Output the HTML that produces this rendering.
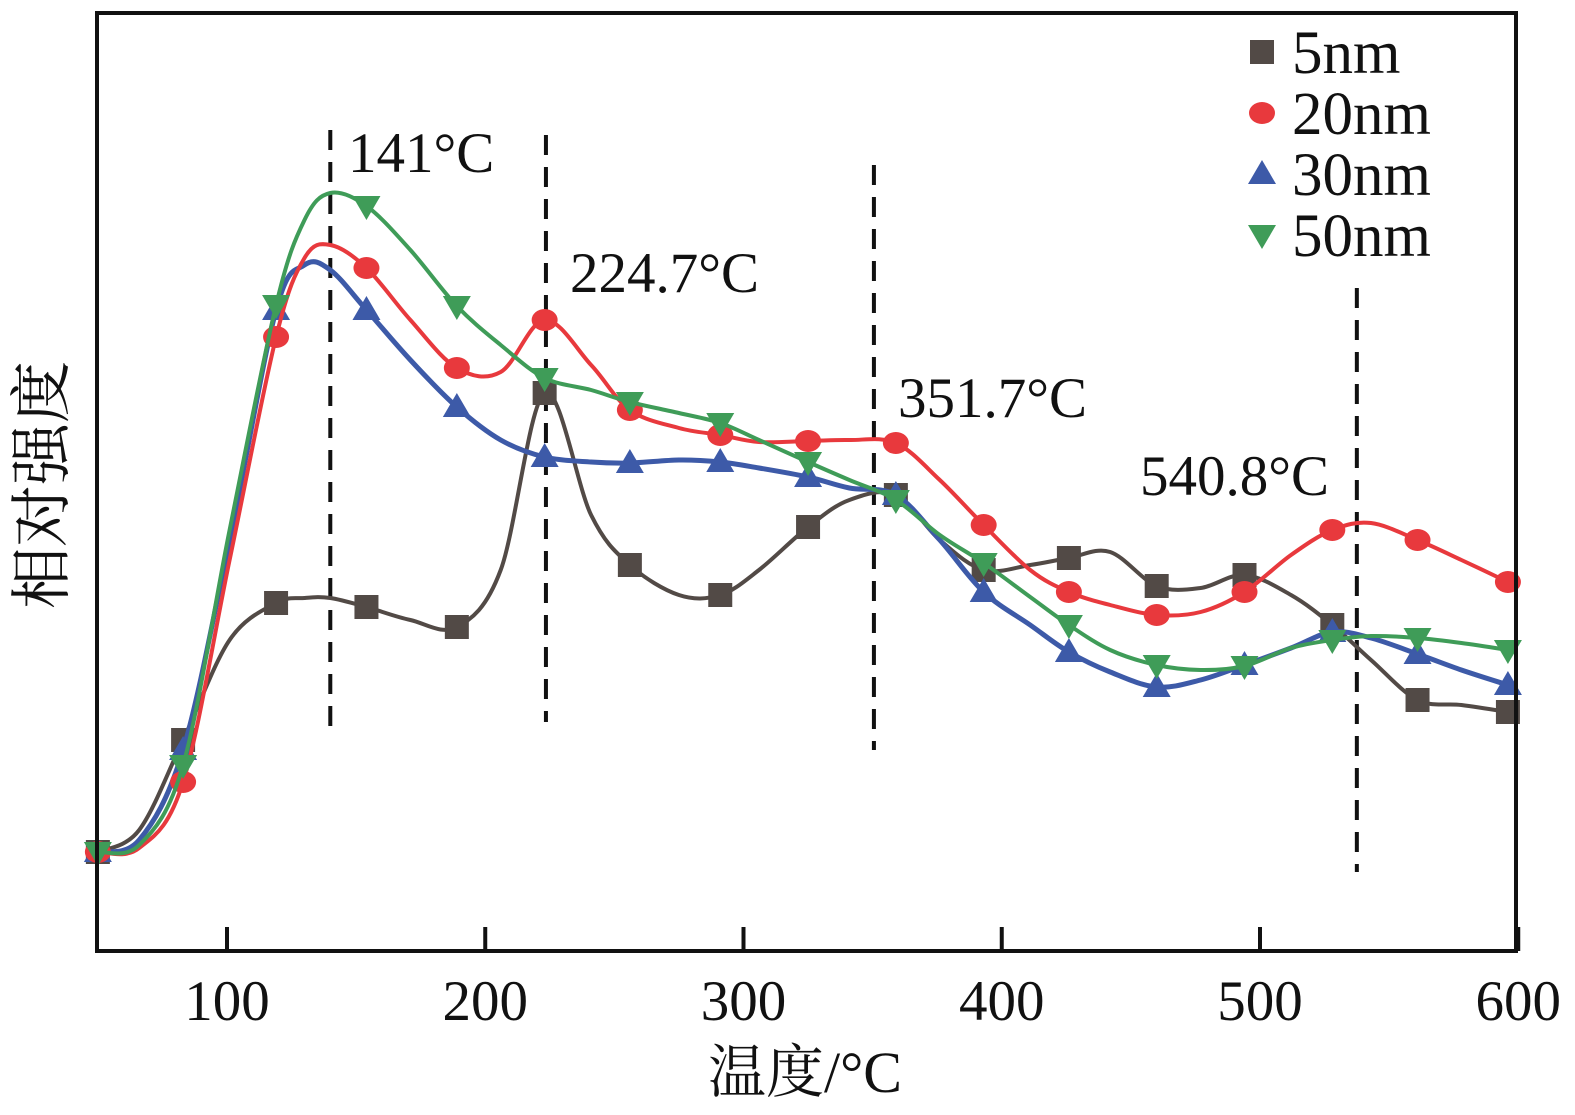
<!DOCTYPE html>
<html><head><meta charset="utf-8">
<style>
html,body{margin:0;padding:0;background:#fff;}
svg{display:block;}
text{font-family:"Liberation Serif","Noto Serif CJK SC",serif;fill:#111;}
</style></head>
<body>
<svg id="chart" width="1575" height="1115" viewBox="0 0 1575 1115" xmlns="http://www.w3.org/2000/svg">
<g id="marks"></g>
<g id="axes"></g>
</svg>
<script>
const temps = [50,66,83,101,119,130,140,154,171,189,206,223,241,256,275,291,306,325,341,359,376,393,411,426,442,460,477,494,512,528,543,561,578,596];
const s5nm  = [96,118,208,308,345,350,350,341,328,321,378,555,433,383,353,353,378,421,448,453,408,378,383,390,396,362,360,373,353,323,288,248,243,236];
const s20nm = [96,100,166,388,611,690,703,680,628,580,576,628,583,538,520,513,506,507,508,505,468,423,378,356,343,333,336,356,393,418,425,408,388,366];
const s30nm = [96,108,198,408,638,683,678,638,588,541,508,491,486,485,488,486,480,471,460,453,408,356,323,296,276,261,268,283,300,316,310,294,278,263];
const s50nm = [96,103,183,418,643,728,755,742,698,642,603,570,558,546,535,525,508,486,468,448,413,385,351,323,298,283,278,282,300,308,312,310,305,298];
const markerIdx = [0,2,4,7,9,11,13,15,17,19,21,23,25,27,29,31,33];
const xTicks = [100,200,300,400,500,600];
const peakTemps = [140,223.5,350.5,537.5];
const peakLabels = ["141°C","224.7°C","351.7°C","540.8°C"];
const seriesNames = ["5nm","20nm","30nm","50nm"];

const NS="http://www.w3.org/2000/svg";
const X0=97,X1=1516,Y0=951,Y1=13;
const xs=t=>227+(t-100)*2.5825;
const ys=v=>948-v;
function el(tag,attrs,parent){const e=document.createElementNS(NS,tag);for(const k in attrs)e.setAttribute(k,attrs[k]);parent.appendChild(e);return e;}
const marks=document.getElementById('marks'), axes=document.getElementById('axes');

const dashRanges=[[130,732],[135,722],[165,750],[288,872]];
const labelPos=[[348,172],[570,292],[898,417],[1140,495]];
peakTemps.forEach((t,i)=>{
  const l=el('line',{x1:xs(t),x2:xs(t),y1:dashRanges[i][0],y2:dashRanges[i][1],stroke:'#111','stroke-width':4,'stroke-dasharray':'20 12'},marks);
  
  
  const tx=el('text',{x:labelPos[i][0],y:labelPos[i][1],'font-size':57},marks);
  tx.textContent=peakLabels[i];
  
  
});

function pathD(vals){
  const p=vals.map((v,i)=>[xs(temps[i]),ys(v)]);
  let d='M'+p[0][0]+','+p[0][1];
  for(let i=0;i<p.length-1;i++){
    const a=p[i-1]||p[i],b=p[i],c=p[i+1],e=p[i+2]||c;
    const c1=[b[0]+(c[0]-a[0])/6,b[1]+(c[1]-a[1])/6],c2=[c[0]-(e[0]-b[0])/6,c[1]-(e[1]-b[1])/6];
    d+=` C${c1[0].toFixed(1)},${c1[1].toFixed(1)} ${c2[0].toFixed(1)},${c2[1].toFixed(1)} ${c[0].toFixed(1)},${c[1].toFixed(1)}`;
  }
  return d;
}
const colors=['#524a46','#e8393d','#3d5aa8','#3f9c58'];
const shapes=['square','circle','up','down'];
function marker(shape,x,y,c,parent,sz){
  const h=sz/2;
  if(shape==='square')return el('rect',{x:x-h,y:y-h,width:sz,height:sz,fill:c},parent);
  if(shape==='circle')return el('ellipse',{cx:x,cy:y,rx:h+1,ry:h-1,fill:c},parent);
  if(shape==='up')return el('polygon',{points:`${x-h-2},${y+h-2} ${x+h+2},${y+h-2} ${x},${y-h-2}`,fill:c},parent);
  return el('polygon',{points:`${x-h-2},${y-h+2} ${x+h+2},${y-h+2} ${x},${y+h+2}`,fill:c},parent);
}
const allSeries=[s5nm,s20nm,s30nm,s50nm];
[0,2,1,3].forEach((k)=>{
  const vals=allSeries[k];
  const g=el('g',{},marks);
  
  
  const p=el('path',{d:pathD(vals),fill:'none',stroke:colors[k],'stroke-width':k===2?5:4},g);
  
  
  markerIdx.forEach(i=>{
    const m=marker(shapes[k],xs(temps[i]),ys(vals[i]),colors[k],g,24);
    
    
  });
});

const fr=el('rect',{x:X0,y:Y1,width:X1-X0,height:Y0-Y1,fill:'none',stroke:'#111','stroke-width':4},axes);


xTicks.forEach(t=>{
  const tk=el('line',{x1:xs(t),x2:xs(t),y1:Y0,y2:Y0-24,stroke:'#111','stroke-width':4},axes);
  
  
  const tl=el('text',{x:xs(t),y:1020,'font-size':57,'text-anchor':'middle'},axes);
  tl.textContent=t;
  
  
});
const xt=el('text',{x:805,y:1092,'font-size':58,'text-anchor':'middle'},axes);
xt.textContent='温度/°C';


const yt=el('text',{x:0,y:0,'font-size':62,'text-anchor':'middle',transform:'translate(63,485) rotate(-90)'},axes);
yt.textContent='相对强度';



const lg=el('g',{},axes);


const rowsY=[52,113,174,235];
seriesNames.forEach((n,k)=>{
  const e=el('g',{},lg);
  
  
  marker(shapes[k],1262,rowsY[k],colors[k],e,24);
  const t=el('text',{x:1292,y:rowsY[k]+21,'font-size':61},e);
  t.textContent=n;
});
</script>
</body></html>
